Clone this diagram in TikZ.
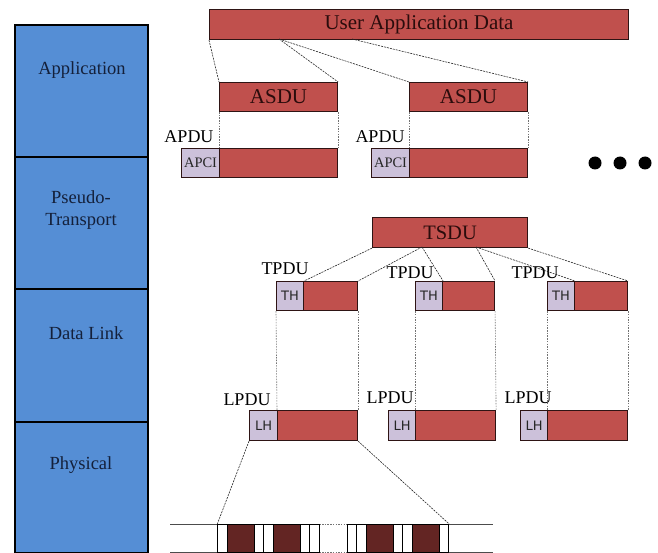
\documentclass[tikz,border=0pt]{standalone}
\usepackage{fontspec}
\setmainfont{Liberation Serif}
\newfontfamily\hdrfont{DejaVu Sans}
\usetikzlibrary{calc}
\definecolor{layerblue}{HTML}{558ED5}
\definecolor{pdured}{HTML}{C0504D}
\definecolor{hdrlav}{HTML}{CCC1DA}
\definecolor{bitdark}{HTML}{632523}
\definecolor{navytext}{HTML}{14203A}
\definecolor{boxline}{HTML}{2E1414}
\definecolor{redtext}{HTML}{2A0C0C}
\begin{document}
\begin{tikzpicture}[x=1pt,y=-1pt,
  layer/.style={draw=black, line width=1.8pt, fill=layerblue, minimum width=133pt, inner sep=0, anchor=north west},
  layertext/.style={inner sep=0, text=navytext, font=\fontsize{18.5}{22}\selectfont},
  pdu/.style={draw=boxline, line width=1.1pt, inner sep=0, anchor=north west, minimum height=29pt},
  redbox/.style={pdu, fill=pdured, text=redtext},
  hdrbox/.style={pdu, fill=hdrlav, text=black!85},
  bigtext/.style={font=\fontsize{21}{21}\selectfont},
  lbl/.style={inner sep=0, font=\fontsize{18}{18}\selectfont},
  bit/.style={draw=black, line width=0.9pt, fill=white, inner sep=0, anchor=north west, minimum height=28pt},
  darkbit/.style={bit, fill=bitdark},
  conn/.style={dash pattern=on 2pt off 1pt, line width=0.6pt, draw=black!85},
  vconn/.style={dash pattern=on 1.5pt off 1.2pt, line width=0.6pt, draw=black!55},
  wire/.style={line width=0.6pt, draw=black!70},
  dot/.style={circle, fill=black, minimum size=13pt, inner sep=0}
]
\useasboundingbox (0,0) rectangle (658,553);

% layer stack
\node[layer, minimum height=132pt] (app) at (14,24) {};
\node[layer, minimum height=132pt] (pt) at (14,156) {};
\node[layer, minimum height=133pt] (dl) at (14,288) {};
\node[layer, minimum height=131pt] (ph) at (14,421) {};
\node[layertext] (lapp) at (82,70) {Application};
\node[layertext, align=center] (lpt) at (81,210) {Pseudo-\\Transport};
\node[layertext] (ldl) at (86,333) {Data Link};
\node[layertext] (lph) at (81,465) {Physical};

% application layer
\node[redbox, minimum width=419pt, minimum height=30pt, bigtext] (uad) at (209,9) {User Application Data};
\node[redbox, minimum width=118pt, bigtext] (asdu1) at (219,82) {ASDU};
\node[redbox, minimum width=118pt, bigtext] (asdu2) at (409,82) {ASDU};
\node[hdrbox, minimum width=38pt, font=\fontsize{14.5}{14.5}\selectfont] (apci1) at (181,148) {APCI};
\node[redbox, minimum width=118pt] (adat1) at (219,148) {};
\node[hdrbox, minimum width=38pt, font=\fontsize{14.5}{14.5}\selectfont] (apci2) at (371,148) {APCI};
\node[redbox, minimum width=118pt] (adat2) at (409,148) {};
\node[lbl] (apdu1) at (189,137) {APDU};
\node[lbl] (apdu2) at (380,137) {APDU};

\coordinate (u1) at (279,39);
\coordinate (u2) at (352,39);
\draw[conn] (uad.south west) -- (asdu1.north west);
\draw[conn] (u1) -- (asdu1.north east);
\draw[conn] (u1) -- (asdu2.north west);
\draw[conn] (u2) -- (asdu2.north east);
\draw[vconn] (asdu1.south west) -- (adat1.north west);
\draw[vconn] (asdu1.south east) -- (adat1.north east);
\draw[vconn] (asdu2.south west) -- (adat2.north west);
\draw[vconn] (asdu2.south east) -- (adat2.north east);

\node[dot] (d1) at (595,163) {};
\node[dot] (d2) at (620,163) {};
\node[dot] (d3) at (645,163) {};

% transport
\node[redbox, minimum width=155pt, minimum height=30pt, font=\fontsize{20.5}{20.5}\selectfont] (tsdu) at (372,217) {TSDU};
\node[hdrbox, minimum width=27pt, font=\hdrfont\fontsize{13}{13}\selectfont] (th1) at (276,281) {TH};
\node[redbox, minimum width=54pt] (tdat1) at (303,281) {};
\node[hdrbox, minimum width=27pt, font=\hdrfont\fontsize{13}{13}\selectfont] (th2) at (415,281) {TH};
\node[redbox, minimum width=52pt] (tdat2) at (442,281) {};
\node[hdrbox, minimum width=27pt, font=\hdrfont\fontsize{13}{13}\selectfont] (th3) at (547,281) {TH};
\node[redbox, minimum width=53pt] (tdat3) at (574,281) {};
\node[lbl] (tpdu1) at (285,269) {TPDU};
\node[lbl] (tpdu2) at (410,273) {TPDU};
\node[lbl] (tpdu3) at (535,273) {TPDU};

\coordinate (t1) at (422,247);
\coordinate (t2) at (476,247);
\draw[conn] (tsdu.south west) -- (th1.north east);
\draw[conn] (t1) -- (tdat1.north east);
\draw[conn] (t1) -- (th2.north east);
\draw[conn] (t2) -- (tdat2.north east);
\draw[conn] (t2) -- (th3.north east);
\draw[conn] (tsdu.south east) -- (tdat3.north east);

% data link
\node[hdrbox, minimum width=28pt, minimum height=30pt, font=\hdrfont\fontsize{13}{13}\selectfont] (lh1) at (249,410) {LH};
\node[redbox, minimum width=80pt, minimum height=30pt] (ldat1) at (277,410) {};
\node[hdrbox, minimum width=27pt, minimum height=30pt, font=\hdrfont\fontsize{13}{13}\selectfont] (lh2) at (388,410) {LH};
\node[redbox, minimum width=80pt, minimum height=30pt] (ldat2) at (415,410) {};
\node[hdrbox, minimum width=27pt, minimum height=30pt, font=\hdrfont\fontsize{13}{13}\selectfont] (lh3) at (520,410) {LH};
\node[redbox, minimum width=80pt, minimum height=30pt] (ldat3) at (547,410) {};
\node[lbl] (lpdu1) at (247,400) {LPDU};
\node[lbl] (lpdu2) at (390,398) {LPDU};
\node[lbl] (lpdu3) at (528,398) {LPDU};

\draw[vconn] (th1.south west) -- (ldat1.north west);
\draw[vconn] (tdat1.south east) -- (ldat1.north east);
\draw[vconn] (th2.south west) -- (ldat2.north west);
\draw[vconn] (tdat2.south east) -- (ldat2.north east);
\draw[vconn] (th3.south west) -- (ldat3.north west);
\draw[vconn] (tdat3.south east) -- (ldat3.north east);

% physical bit stream
\coordinate (sa) at (170,524);
\coordinate (sb) at (319.3,524);
\coordinate (sc) at (346.7,524);
\coordinate (sd) at (493,524);
\coordinate (sa2) at (170,552);
\coordinate (sb2) at (319.3,552);
\coordinate (sc2) at (346.7,552);
\coordinate (sd2) at (493,552);
\draw[wire] (sa) -- (sb);
\draw[wire] (sc) -- (sd);
\draw[wire] (sa2) -- (sb2);
\draw[wire] (sc2) -- (sd2);
\draw[vconn] (sb) -- (sc);
\draw[vconn] (sb2) -- (sc2);

\node[bit, minimum width=10pt] (b1) at (217.3,524) {};
\node[darkbit, minimum width=26.7pt] (b2) at (227.3,524) {};
\node[bit, minimum width=9.3pt] (b3) at (254,524) {};
\node[bit, minimum width=10pt] (b4) at (263.3,524) {};
\node[darkbit, minimum width=26.7pt] (b5) at (273.3,524) {};
\node[bit, minimum width=9.3pt] (b6) at (300,524) {};
\node[bit, minimum width=10pt] (b7) at (309.3,524) {};
\node[bit, minimum width=9.3pt] (b8) at (346.7,524) {};
\node[bit, minimum width=10pt] (b9) at (356,524) {};
\node[darkbit, minimum width=26.7pt] (b10) at (366,524) {};
\node[bit, minimum width=9.6pt] (b11) at (392.7,524) {};
\node[bit, minimum width=10pt] (b12) at (402.3,524) {};
\node[darkbit, minimum width=26.7pt] (b13) at (412.3,524) {};
\node[bit, minimum width=9.3pt] (b14) at (439,524) {};

\draw[conn] (lh1.south west) -- (b1.north west);
\draw[conn] (ldat1.south east) -- (b14.north east);
\end{tikzpicture}
\end{document}
